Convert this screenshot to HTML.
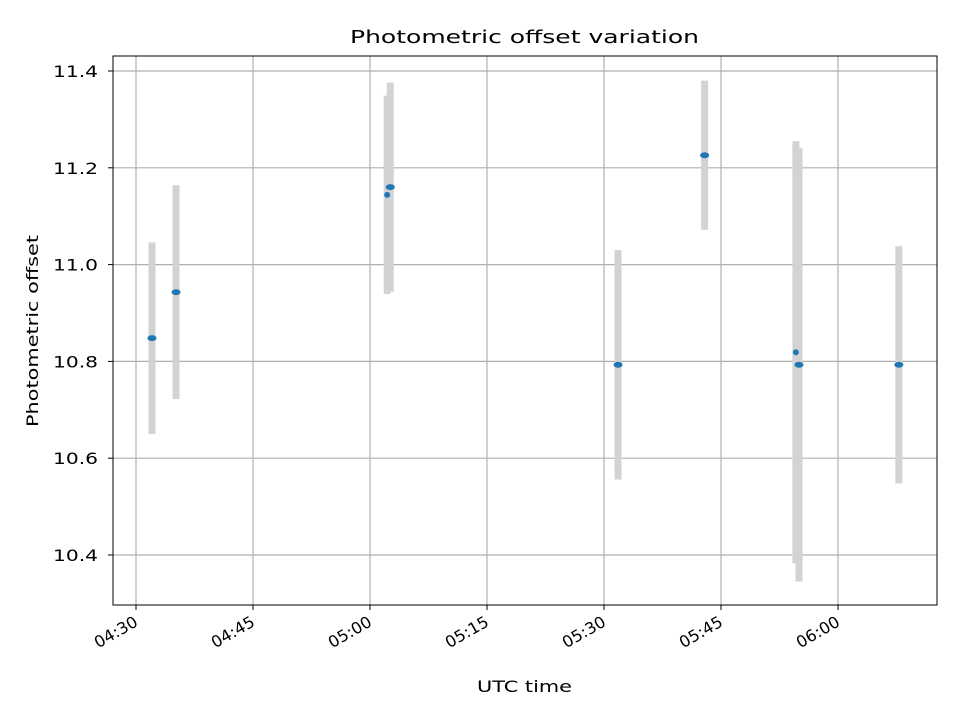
<!DOCTYPE html>
<html><head><meta charset="utf-8"><style>
body{margin:0;background:#fff}
svg text{font-family:"DejaVu Sans","Liberation Sans",sans-serif;fill:#000}
</style></head><body>
<svg id="chart" width="960" height="720" xmlns="http://www.w3.org/2000/svg">
<rect width="960" height="720" fill="#fff"/>
<g id="grid"></g><g id="bars"></g><g id="marks"></g><g id="ticks"></g>
<rect x="113" y="56" width="824" height="549" fill="none" stroke="#000" stroke-width="1"/>
<text x="350" y="43" font-size="18" textLength="349" lengthAdjust="spacingAndGlyphs">Photometric offset variation</text>
<text x="477" y="692" font-size="16" textLength="95" lengthAdjust="spacingAndGlyphs">UTC time</text>
<text transform="translate(38,427) rotate(-90)" font-size="16" textLength="192" lengthAdjust="spacingAndGlyphs">Photometric offset</text>
</svg>
<script>
// minutes after 04:30 UTC
const times=[2.05,5.13,32.2,32.6,61.8,72.9,84.6,85.0,97.8];
const offsets=[10.848,10.943,11.144,11.160,10.793,11.226,10.819,10.793,10.793];
const errors=[0.198,0.221,0.205,0.216,0.237,0.154,0.436,0.448,0.245];
const smallMarker=[false,false,true,false,false,false,true,false,false];
const yTicks=[10.4,10.6,10.8,11.0,11.2,11.4];
const xTickMinutes=[0,15,30,45,60,75,90];
const xTickLabels=["04:30","04:45","05:00","05:15","05:30","05:45","06:00"];
const NS="http://www.w3.org/2000/svg";
const L=113,R=937,T=56,B=605;
function x(m){return 136+m*(117/15);}
function y(v){return 71+(11.4-v)*484;}
function mk(tag,attrs,parent){const e=document.createElementNS(NS,tag);for(const k in attrs)e.setAttribute(k,attrs[k]);document.getElementById(parent).appendChild(e);return e;}
yTicks.forEach((v,i)=>{
 const g=mk('line',{x1:L,x2:R,y1:y(v),y2:y(v),stroke:'#b0b0b0','stroke-width':1.2},'grid');
 
 
 mk('line',{x1:L-5,x2:L,y1:y(v),y2:y(v),stroke:'#000'},'ticks');
 const t=mk('text',{x:L-60,y:y(v)+6,'font-size':16,textLength:45,lengthAdjust:'spacingAndGlyphs'},'ticks');
 t.textContent=v.toFixed(1);
 
 
});
xTickMinutes.forEach((m,i)=>{
 const g=mk('line',{x1:x(m),x2:x(m),y1:T,y2:B,stroke:'#b0b0b0','stroke-width':1.2},'grid');
 
 
 mk('line',{x1:x(m),x2:x(m),y1:B,y2:B+5,stroke:'#000'},'ticks');
 const t=mk('text',{transform:`translate(${x(m)+3},${B+20}) rotate(-30) translate(-47,0)`,'font-size':16,textLength:47,lengthAdjust:'spacingAndGlyphs'},'ticks');
 t.textContent=xTickLabels[i];
 
 
});
times.forEach((m,i)=>{
 const b=mk('rect',{x:x(m)-3.5,y:y(offsets[i]+errors[i]),width:7,height:y(offsets[i]-errors[i])-y(offsets[i]+errors[i]),fill:'#d3d3d3'},'bars');
 
 
});
times.forEach((m,i)=>{
 const s=smallMarker[i];
 const p=mk('ellipse',{cx:x(m),cy:y(offsets[i]),rx:s?3:4.5,ry:3,fill:'#1f77b4'},'marks');
 
 
});
</script>
</body></html>
